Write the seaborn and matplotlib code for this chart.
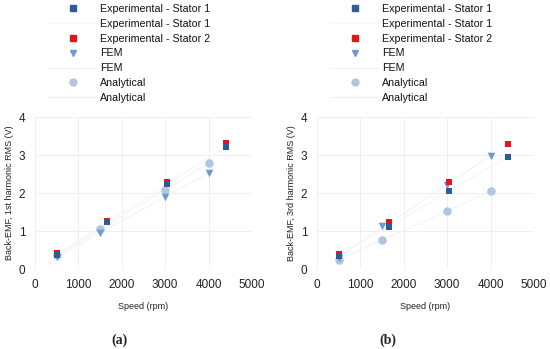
import numpy as np
import pandas as pd
import seaborn as sns
import matplotlib.pyplot as plt
from matplotlib.lines import Line2D

# speeds (rpm)
speed_exp = [500, 1650, 3030, 4400]
speed_sim = [500, 1500, 3000, 4000]

# (a) 1st harmonic RMS (V)
a_stator1 = [0.37, 1.23, 2.23, 3.21]
a_stator2 = [0.41, 1.27, 2.30, 3.31]
a_fem = [0.32, 0.95, 1.90, 2.53]
a_analytical = [0.36, 1.05, 2.09, 2.79]

# (b) 3rd harmonic RMS (V)
b_stator1 = [0.35, 1.11, 2.04, 2.96]
b_stator2 = [0.39, 1.24, 2.28, 3.30]
b_fem = [0.30, 1.13, 2.22, 2.98]
b_analytical = [0.25, 0.77, 1.53, 2.04]

panels = [
    ("Back-EMF, 1st harmonic RMS (V)", "(a)", a_stator1, a_stator2, a_fem, a_analytical),
    ("Back-EMF, 3rd harmonic RMS (V)", "(b)", b_stator1, b_stator2, b_fem, b_analytical),
]

c_s1 = "#2d5d98"
c_s2 = "#e5131b"
c_fem = "#6b9bd2"
c_an = "#b3c6df"
c_line = "#f2f4f8"

sns.set_theme(style="white")
plt.rcParams['font.family'] = ['Liberation Sans', 'DejaVu Sans']

fig = plt.figure(figsize=(5.5, 3.49), dpi=100)
lefts = [35 / 550, 317 / 550]

for i, (ylab, tag, s1, s2, fem, an) in enumerate(panels):
    ax = fig.add_axes([lefts[i], 80 / 349, 217 / 550, 152 / 349])
    ax.grid(True, color="#ededed", linewidth=0.6)
    ax.set_axisbelow(True)

    # faint trend lines
    sns.regplot(x=speed_exp, y=s1, ax=ax, scatter=False, ci=None, truncate=True,
                line_kws=dict(color="#f6f6f6", lw=0.8, zorder=1))
    sns.regplot(x=speed_sim, y=fem, ax=ax, scatter=False, ci=None, truncate=True,
                line_kws=dict(color=c_line, lw=0.8, zorder=1))
    sns.regplot(x=speed_sim, y=an, ax=ax, scatter=False, ci=None, truncate=True,
                line_kws=dict(color=c_line, lw=0.8, zorder=1))

    sns.scatterplot(x=speed_sim, y=an, ax=ax, color=c_an, marker="o", s=38,
                    linewidth=0, zorder=3)
    sns.scatterplot(x=speed_sim, y=fem, ax=ax, color=c_fem, marker="v", s=30,
                    linewidth=0, zorder=4)
    sns.scatterplot(x=speed_exp, y=s2, ax=ax, color=c_s2, marker="s", s=24,
                    linewidth=0, zorder=5)
    sns.scatterplot(x=speed_exp, y=s1, ax=ax, color=c_s1, marker="s", s=24,
                    linewidth=0, zorder=6)

    ax.set_xlim(0, 5000)
    ax.set_ylim(0, 4)
    ax.set_xticks([0, 1000, 2000, 3000, 4000, 5000])
    ax.set_yticks([0, 1, 2, 3, 4])
    ax.tick_params(axis="x", labelsize=8.5, length=0, pad=7, colors="#222222")
    ax.tick_params(axis="y", labelsize=8.5, length=0, pad=7, colors="#222222")
    for sp in ax.spines.values():
        sp.set_visible(False)
    ax.set_xlabel("Speed (rpm)", fontsize=6.5, labelpad=8, color="#222222")
    ax.set_ylabel(ylab, fontsize=6.5, labelpad=3, color="#222222")

    handles = [
        Line2D([], [], ls="none", marker="s", color=c_s1, markersize=4.5),
        Line2D([], [], color="#f7f7f7", lw=0.8),
        Line2D([], [], ls="none", marker="s", color=c_s2, markersize=4.5),
        Line2D([], [], ls="none", marker="v", color=c_fem, markersize=4.5),
        Line2D([], [], color="#eef2f7", lw=0.8),
        Line2D([], [], ls="none", marker="o", color=c_an, markersize=5),
        Line2D([], [], color="#eef2f7", lw=0.8),
    ]
    labels = ["Experimental - Stator 1", "Experimental - Stator 1",
              "Experimental - Stator 2", "FEM", "FEM", "Analytical", "Analytical"]
    fig.legend(handles, labels, loc="upper left",
               bbox_to_anchor=((48 + 282 * i) / 550, 1 - 4 / 349),
               bbox_transform=fig.transFigure, frameon=False, fontsize=7.7,
               labelcolor="#111111",
               borderpad=0, borderaxespad=0, handlelength=4.6,
               handletextpad=0.25, labelspacing=0.45)

    fig.text((120 + 268 * i) / 550, 9 / 349, tag, ha="center", va="center",
             fontsize=10, fontweight="bold", family=["Liberation Serif", "DejaVu Serif"])

fig.savefig("out.png", dpi=100)
